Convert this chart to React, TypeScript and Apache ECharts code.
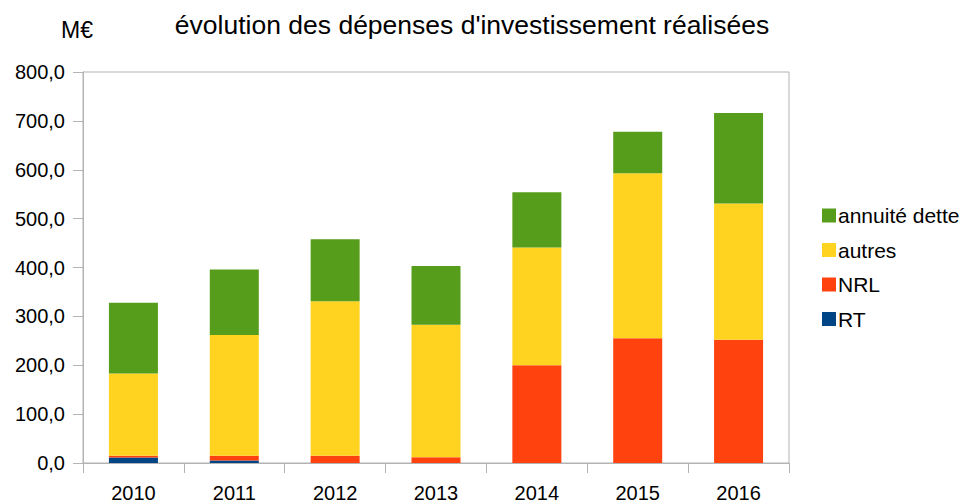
import React, { useEffect, useRef } from "react";
import * as echarts from "echarts";

const categories = ["2010", "2011", "2012", "2013", "2014", "2015", "2016"];
const rtValues = [11, 5, 0, 0, 0, 0, 0];
const nrlValues = [4, 10, 15, 12, 200, 255, 252];
const autresValues = [168, 247, 316, 271, 241, 338, 279];
const annuiteValues = [145, 134, 127, 120, 113, 85, 185];
const legendOrder = ["annuité dette", "autres", "NRL", "RT"];

const FONT = "'Liberation Sans', Arial, sans-serif";
const GREY = "#b3b3b3";

export default function App() {
  const ref = useRef<HTMLDivElement>(null);
  useEffect(() => {
    if (!ref.current) return;
    const chart = echarts.init(ref.current, null, { renderer: "svg" });
    const bar = (name: string, data: number[], color: string) => ({
      name,
      type: "bar",
      stack: "total",
      data,
      barWidth: 49,
      itemStyle: { color },
      emphasis: { disabled: true },
    });
    chart.setOption({
      animation: false,
      backgroundColor: "#ffffff",
      textStyle: { fontFamily: FONT },
      title: [
        {
          text: "évolution des dépenses d'investissement réalisées",
          left: 467,
          textAlign: "center",
          top: 6,
          textStyle: { fontFamily: FONT, fontSize: 26.5, fontWeight: "normal", color: "#000" },
        },
        {
          text: "M€",
          left: 56,
          top: 13,
          textStyle: { fontFamily: FONT, fontSize: 23, fontWeight: "normal", color: "#000" },
        },
      ],
      legend: {
        data: legendOrder,
        orient: "vertical",
        left: 817,
        top: 200,
        itemWidth: 14,
        itemHeight: 14,
        itemGap: 13.5,
        icon: "rect",
        textStyle: { fontFamily: FONT, fontSize: 21, color: "#000", padding: [0, 0, 0, -3] },
      },
      grid: {
        left: 83,
        right: 175,
        top: 72,
        bottom: 37,
        show: true,
        borderColor: GREY,
        borderWidth: 1,
        containLabel: false,
      },
      xAxis: {
        type: "category",
        data: categories,
        axisLine: { show: true, lineStyle: { color: GREY, width: 1 } },
        axisTick: { show: true, length: 10, lineStyle: { color: GREY } },
        axisLabel: { fontFamily: FONT, fontSize: 20, color: "#000", margin: 20 },
        splitLine: { show: false },
      },
      yAxis: {
        type: "value",
        min: 0,
        max: 800,
        interval: 100,
        axisLine: { show: true, lineStyle: { color: GREY, width: 1 } },
        axisTick: { show: true, length: 10, lineStyle: { color: GREY } },
        axisLabel: {
          fontFamily: FONT,
          fontSize: 20,
          color: "#000",
          margin: 18,
          formatter: (v: number) => v.toFixed(1).replace(".", ","),
        },
        splitLine: { show: false },
      },
      series: [
        bar("RT", rtValues, "#004586"),
        bar("NRL", nrlValues, "#ff420e"),
        bar("autres", autresValues, "#ffd320"),
        bar("annuité dette", annuiteValues, "#579d1c"),
      ],
    });
    return () => chart.dispose();
  }, []);
  return <div ref={ref} style={{ width: 964, height: 503, position: "absolute", left: 0, top: 0 }} />;
}
